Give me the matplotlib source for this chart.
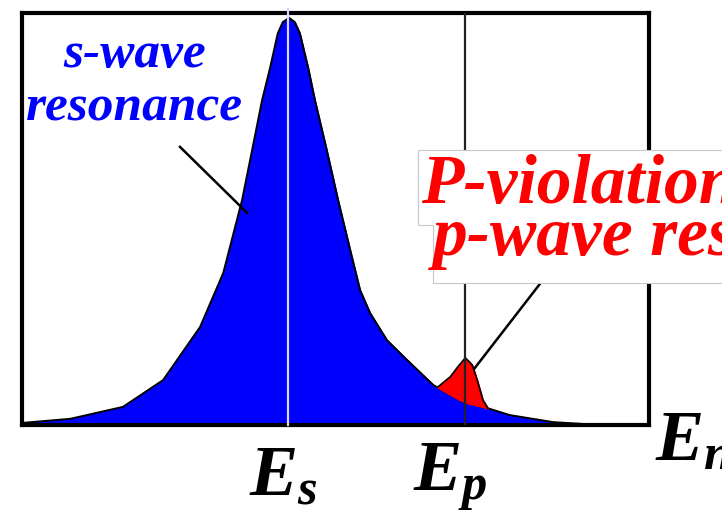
import numpy as np
import matplotlib
matplotlib.use('Agg')
import matplotlib.pyplot as plt
from matplotlib.patches import Polygon

plt.rcParams['mathtext.fontset'] = 'custom'
plt.rcParams['mathtext.it'] = 'Liberation Serif:italic:bold'
plt.rcParams['mathtext.rm'] = 'Liberation Serif:bold'

# s-wave resonance (energy in arb. units, amplitude normalised)
s_energy = [0.00, 0.77, 1.61, 2.25, 2.84, 3.21, 3.51, 3.67, 3.83, 3.96, 4.08, 4.16, 4.26,
            4.35, 4.43, 4.56, 4.67, 4.86, 5.04, 5.26, 5.39, 5.55, 5.82, 6.14, 6.56, 7.03,
            7.42, 7.78, 8.47, 9.22, 10.0]
s_amp = [0.005, 0.015, 0.044, 0.109, 0.238, 0.369, 0.546, 0.667, 0.789, 0.869, 0.951, 0.978, 0.988,
         0.978, 0.951, 0.869, 0.789, 0.667, 0.546, 0.408, 0.328, 0.272, 0.206, 0.158, 0.097, 0.056,
         0.041, 0.024, 0.007, 0.0, 0.0]

# p-wave bump on top of the s-wave tail
p_energy = [6.63, 6.83, 6.95, 7.07, 7.18, 7.26, 7.35, 7.43]
p_amp = [0.092, 0.117, 0.141, 0.163, 0.146, 0.109, 0.061, 0.041]

E_s = 4.24
E_p = 7.07
res_labels = [r'$E_s$', r'$E_p$']

fig = plt.figure(figsize=(7.22, 5.13), dpi=100)
ax = fig.add_axes([22 / 722, 88 / 513, 627 / 722, 412 / 513])
ax.set_xlim(0, 10)
ax.set_ylim(0, 1.0)

ax.fill_between(s_energy, 0, s_amp, color='#0000ff', zorder=1)
ax.plot(s_energy, s_amp, color='black', lw=1.4, zorder=2)

p_base = np.interp(p_energy, s_energy, s_amp)
ax.fill_between(p_energy, p_base, p_amp, color='#ff0000', zorder=2)
ax.plot(p_energy, p_amp, color='black', lw=1.2, zorder=3)

ax.axvline(E_s, ymin=0, ymax=1.01, color='#d8d8ff', lw=1.6, zorder=4, clip_on=False)
ax.axvline(E_p, color='#222222', lw=1.6, zorder=4)

for sp in ax.spines.values():
    sp.set_linewidth(3)
    sp.set_color('black')
ax.set_xticks([])
ax.set_yticks([])

# energy labels under the axis
for x, lab, dx in zip([E_s, E_p], res_labels, [-3, -11]):
    ax.annotate(lab, xy=(x, 0), xytext=(dx, -12), textcoords='offset points',
                fontsize=52, ha='center', va='top', annotation_clip=False)
ax.text(10.10, -0.085, r'$E_n$', fontsize=52, ha='left', va='baseline', clip_on=False)

# s-wave label
txt_blue = dict(color='#0000ff', fontsize=37, family='Liberation Serif',
                fontweight='bold', fontstyle='italic', ha='center', va='baseline')
ax.text(1.79, 0.869, 's-wave', **txt_blue)
ax.text(1.79, 0.740, 'resonance', **txt_blue)
ax.plot([2.52, 3.59], [0.675, 0.515], color='black', lw=1.8, zorder=5)

# P-violation label with stepped white background
ax.plot([8.4, 7.22], [0.37, 0.138], color='black', lw=1.8, zorder=5)
bg = Polygon([(6.32, 0.667), (12, 0.667), (12, 0.345), (6.56, 0.345), (6.56, 0.485), (6.32, 0.485)],
             closed=True, fc='white', ec='#c8c8c8', lw=0.8, zorder=9, clip_on=False)
ax.add_patch(bg)
txt_red = dict(color='#ff0000', fontsize=50, family='Liberation Serif',
               fontweight='bold', fontstyle='italic', ha='left', va='baseline',
               clip_on=False, zorder=10)
ax.text(6.36, 0.539, 'P-violation in', **txt_red)
ax.text(6.56, 0.413, 'p-wave resonance', **txt_red)

fig.savefig('out.png', dpi=100, facecolor='white')
